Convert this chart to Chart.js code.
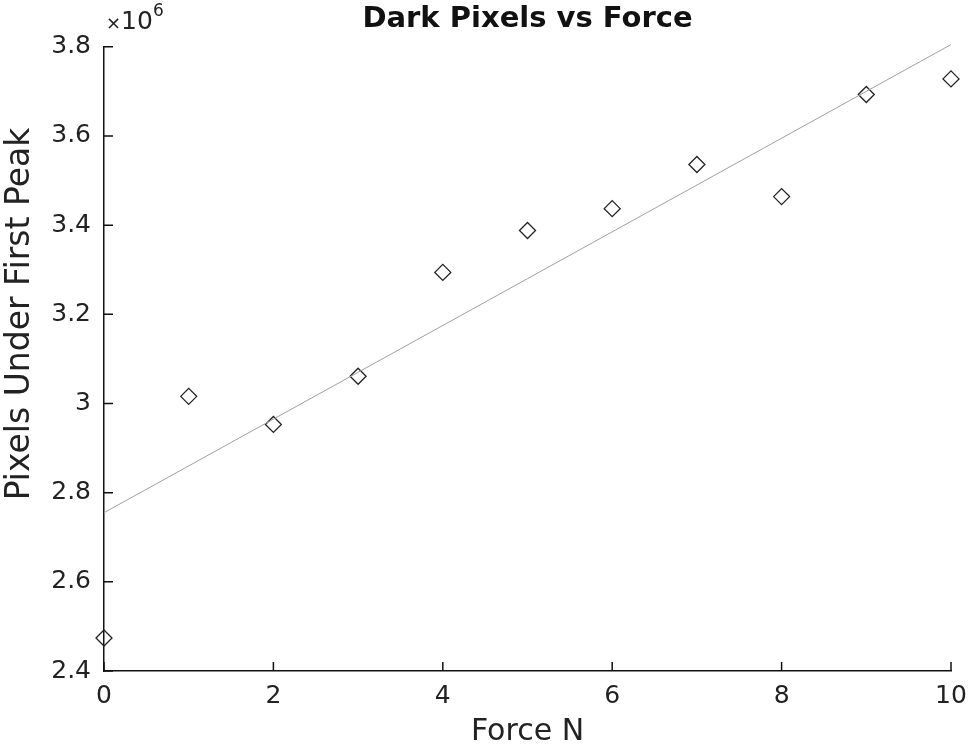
<!DOCTYPE html>
<html>
<head>
<meta charset="utf-8">
<script src="https://cdn.jsdelivr.net/npm/chart.js@4.4.0/dist/chart.umd.min.js"></script>
<style>
  html, body { margin:0; padding:0; background:#fff; }
  #wrap { width:970px; height:750px; }
</style>
</head>
<body>
<div id="wrap"><canvas id="graph"></canvas></div>
<script>
// Données
const forces = [0, 1, 2, 3, 4, 5, 6, 7, 8, 9, 10];
const pixels = [2474000, 3016000, 2953000, 3061000, 3294000, 3388000, 3437000, 3536000, 3464000, 3693000, 3728000];
const fitX = [0, 10];
const fitY = [2755000, 3805000];
const xTicks = [0, 2, 4, 6, 8, 10];
const yTicks = [2400000, 2600000, 2800000, 3000000, 3200000, 3400000, 3600000, 3800000];

const FONT = "'DejaVu Sans', sans-serif";

// Ticks vers l'intérieur, facteur x10^6 et titre de l'axe y
const matlabAxes = {
  id: "matlabAxes",
  afterDraw(chart) {
    const {ctx, chartArea, scales} = chart;
    ctx.save();
    ctx.strokeStyle = "#111";
    ctx.lineWidth = 1.5;
    ctx.beginPath();
    xTicks.forEach(v => {
      const px = scales.x.getPixelForValue(v);
      ctx.moveTo(px, chartArea.bottom);
      ctx.lineTo(px, chartArea.bottom - 9);
    });
    yTicks.forEach(v => {
      const py = scales.y.getPixelForValue(v);
      ctx.moveTo(chartArea.left, py);
      ctx.lineTo(chartArea.left + 9, py);
    });
    ctx.stroke();

    ctx.fillStyle = "#222";
    ctx.textBaseline = "alphabetic";
    ctx.textAlign = "left";
    ctx.font = "18px " + FONT;
    ctx.fillText("\u00d7", chartArea.left + 2, chartArea.top - 18);
    ctx.font = "25px " + FONT;
    ctx.fillText("10", chartArea.left + 17, chartArea.top - 18);
    ctx.font = "17px " + FONT;
    ctx.fillText("6", chartArea.left + 49, chartArea.top - 31);

    // titre y (décalé vers le haut comme sur la figure)
    ctx.translate(20, 314);
    ctx.rotate(-Math.PI / 2);
    ctx.textAlign = "center";
    ctx.textBaseline = "middle";
    ctx.font = "33px " + FONT;
    ctx.fillText("Pixels Under First Peak", 0, 0);
    ctx.restore();
  }
};

const ctx = document.getElementById("graph").getContext("2d");
new Chart(ctx, {
  type: "scatter",
  data: {
    datasets: [
      {
        label: "Fit",
        data: fitX.map((x, i) => ({x: x, y: fitY[i]})),
        showLine: true,
        borderColor: "#a0a0a0",
        borderWidth: 1,
        pointRadius: 0,
        clip: false
      },
      {
        label: "Mesures",
        data: forces.map((x, i) => ({x: x, y: pixels[i]})),
        pointStyle: "rectRot",
        pointRadius: 8,
        borderColor: "#222",
        borderWidth: 1.3,
        backgroundColor: "rgba(0,0,0,0)",
        clip: false
      }
    ]
  },
  options: {
    responsive: true,
    maintainAspectRatio: false,
    animation: false,
    layout: { padding: { left: 0, right: 19, top: 0, bottom: 0 } },
    plugins: {
      legend: { display: false },
      tooltip: { enabled: false },
      title: {
        display: true,
        fullSize: false,
        text: "Dark Pixels vs Force",
        color: "#111",
        font: { family: FONT, size: 29, weight: "bold" },
        padding: { top: 2, bottom: 10 }
      }
    },
    scales: {
      x: {
        type: "linear",
        min: 0, max: 10,
        afterBuildTicks: s => { s.ticks = xTicks.map(v => ({value: v})); },
        afterFit: s => { s.height = 79; s.paddingLeft = 0; s.paddingRight = 0; },
        grid: { display: false, drawTicks: false },
        border: { display: true, color: "#111", width: 1.5 },
        ticks: {
          color: "#222",
          padding: 10,
          font: { family: FONT, size: 25 },
          callback: v => String(v)
        },
        title: {
          display: true,
          text: "Force N",
          color: "#222",
          font: { family: FONT, size: 30 },
          padding: { top: 2, bottom: 0 }
        }
      },
      y: {
        type: "linear",
        min: 2400000, max: 3800000,
        afterBuildTicks: s => { s.ticks = yTicks.map(v => ({value: v})); },
        afterFit: s => { s.width = 104; },
        grid: { display: false, drawTicks: false },
        border: { display: true, color: "#111", width: 1.5 },
        ticks: {
          color: "#222",
          padding: 13,
          font: { family: FONT, size: 25 },
          callback: v => String(parseFloat((v / 1e6).toFixed(1)))
        }
      }
    }
  },
  plugins: [matlabAxes]
});
</script>
</body>
</html>
